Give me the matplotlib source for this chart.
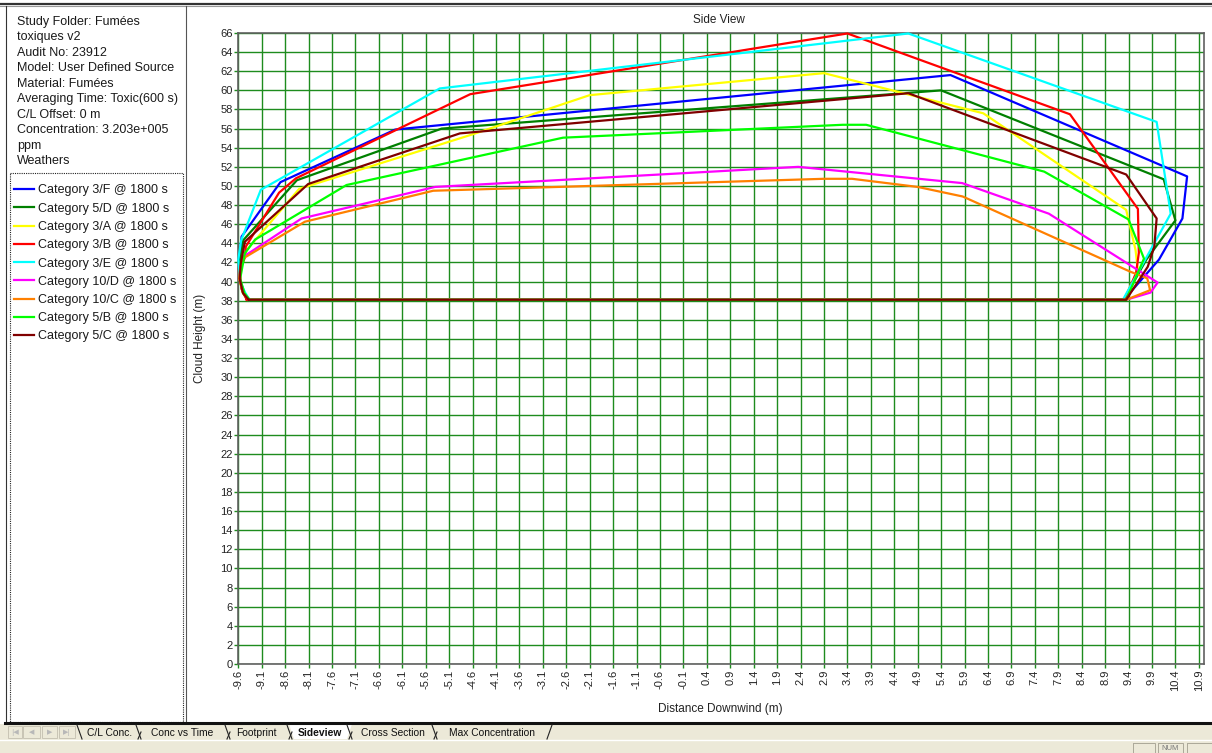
import numpy as np
import matplotlib
matplotlib.use('Agg')
import matplotlib.pyplot as plt
from matplotlib.patches import Rectangle, Polygon

W, H = 1212, 753

info_lines = [
    'Study Folder: Fumées',
    'toxiques v2',
    'Audit No: 23912',
    'Model: User Defined Source',
    'Material: Fumées',
    'Averaging Time: Toxic(600 s)',
    'C/L Offset: 0 m',
    'Concentration: 3.203e+005',
    'ppm',
    'Weathers',
]

series_names = [
    'Category 3/F @ 1800 s',
    'Category 5/D @ 1800 s',
    'Category 3/A @ 1800 s',
    'Category 3/B @ 1800 s',
    'Category 3/E @ 1800 s',
    'Category 10/D @ 1800 s',
    'Category 10/C @ 1800 s',
    'Category 5/B @ 1800 s',
    'Category 5/C @ 1800 s',
]
series_colors = ['#0000FF', '#008000', '#FFFF00', '#FF0000', '#00FFFF',
                 '#FF00FF', '#FF8000', '#00FF00', '#800000']

# cloud outlines (distance downwind m, height m), closed along the 38.1 m base
x_3f = [-9.38, -9.47, -9.57, -9.58, -9.53, -8.7, -6.25, 5.6, 10.65, 10.55, 10.05, 9.3]
y_3f = [38.1, 38.8, 40.2, 42.0, 44.7, 50.4, 55.9, 61.6, 51.0, 46.6, 42.3, 38.1]

x_5d = [-9.4, -9.5, -9.58, -9.57, -9.49, -8.35, -5.26, 5.4, 10.15, 10.4, 9.78, 9.3]
y_5d = [38.1, 38.8, 40.3, 42.0, 44.35, 50.6, 56.0, 60.0, 50.7, 46.4, 42.3, 38.1]

x_3a = [-9.4, -9.5, -9.57, -9.55, -9.42, -8.3, -4.6, -2.1, 2.9, 6.3, 9.35, 9.55, 9.6, 9.3]
y_3a = [38.1, 38.8, 40.2, 41.8, 43.3, 49.7, 55.4, 59.5, 61.8, 57.6, 47.5, 43.3, 41.2, 38.1]

x_3b = [-9.42, -9.53, -9.57, -9.46, -9.44, -8.73, -8.37, -4.65, 3.4, 8.15, 9.6, 9.62, 9.56, 9.32]
y_3b = [38.1, 39.2, 41.2, 42.5, 43.65, 49.3, 50.8, 59.6, 65.95, 57.5, 47.6, 43.0, 40.9, 38.1]

x_3e = [-9.36, -9.45, -9.56, -9.6, -9.54, -9.12, -5.3, 4.7, 10.0, 10.3, 9.28]
y_3e = [38.1, 38.8, 40.0, 42.3, 44.3, 49.6, 60.2, 65.95, 56.7, 47.1, 38.1]

x_10d = [-9.38, -9.48, -9.57, -9.56, -9.49, -8.25, -5.4, 2.35, 5.85, 7.7, 10.02, 9.87, 9.35]
y_10d = [38.1, 38.8, 40.2, 41.5, 42.6, 46.6, 49.9, 52.0, 50.3, 47.1, 39.9, 38.85, 38.1]

x_10c = [-9.38, -9.5, -9.58, -9.56, -9.49, -8.18, -5.44, 2.9, 3.5, 4.9, 5.86, 9.44, 9.8, 9.86, 9.35]
y_10c = [38.1, 38.9, 40.3, 41.5, 42.44, 46.26, 49.5, 50.75, 50.75, 49.9, 48.9, 41.03, 40.34, 39.1, 38.1]

x_5b = [-9.36, -9.47, -9.56, -9.46, -9.24, -7.29, -2.67, 3.3, 3.8, 7.6, 9.4, 9.73, 9.35]
y_5b = [38.1, 38.8, 40.3, 42.96, 44.4, 50.1, 55.05, 56.4, 56.4, 51.5, 46.5, 42.4, 38.1]

x_5c = [-9.38, -9.5, -9.57, -9.55, -9.46, -8.11, -4.87, 4.7, 9.35, 10.0, 9.95, 9.81, 9.35]
y_5c = [38.1, 38.8, 40.3, 41.8, 44.17, 50.2, 55.5, 59.7, 51.2, 46.6, 43.65, 41.55, 38.1]

series_x = [x_3f, x_5d, x_3a, x_3b, x_3e, x_10d, x_10c, x_5b, x_5c]
series_y = [y_3f, y_5d, y_3a, y_3b, y_3e, y_10d, y_10c, y_5b, y_5c]

x_ticks = np.round(np.arange(-9.6, 10.95, 0.5), 1)
y_ticks = np.arange(0, 67, 2)

tab_names = ['C/L Conc.', 'Conc vs Time', 'Footprint', 'Sideview',
             'Cross Section', 'Max Concentration']

plt.rcParams['font.family'] = ['Liberation Sans', 'DejaVu Sans']

fig = plt.figure(figsize=(W / 100, H / 100), dpi=100)

# window chrome drawn in pixel coordinates
bg = fig.add_axes([0, 0, 1, 1], zorder=0)
bg.set_xlim(0, W)
bg.set_ylim(H, 0)
bg.axis('off')
bg.plot([0, W], [4, 4], color='#333333', lw=1.6)
bg.plot([0, W], [6.2, 6.2], color='#999999', lw=0.8)
bg.plot([6, 6], [6, 723], color='#333333', lw=0.8)
bg.plot([186, 186], [6, 723], color='#555555', lw=0.8)
bg.add_patch(Rectangle((9.5, 172.5), 173.5, 549, fill=False, ec='#222222',
                       lw=0.8, ls=(0, (1, 1))))
bg.add_patch(Rectangle((0, 724), W, 29, color='#ECE9D8', lw=0))
bg.plot([5, W], [723, 723], color='#111111', lw=2.2)
bg.plot([0, W], [739.5, 739.5], color='#ffffff', lw=1.0)

# sheet navigation buttons
for (x0, x1), glyph in zip([(8, 22), (23, 40), (42, 57), (59, 75)],
                           ['|◀', '◀', '▶', '▶|']):
    bg.add_patch(Rectangle((x0, 726), x1 - x0, 12, fill=False, ec='#c8c4b4', lw=0.7))
    bg.text((x0 + x1) / 2, 732.5, glyph, ha='center', va='center',
            fontsize=5, color='#b8b8b8', family='DejaVu Sans')

# tabs
bg.add_patch(Polygon([(289, 724), (352, 724), (347, 739), (294, 739)],
                     closed=True, color='#ffffff', lw=0))
for s in [140, 229, 291, 351, 436]:
    bg.plot([s - 4, s + 1], [725, 739], color='#222222', lw=0.8)
    bg.plot([s - 2, s + 1], [739, 732], color='#222222', lw=0.8)
bg.plot([77, 82], [725, 739], color='#222222', lw=0.8)
bg.plot([547, 552], [739, 725], color='#222222', lw=0.8)
for name, cx in zip(tab_names, [110, 182, 256, 320, 393, 492]):
    bg.text(cx, 732.5, name, ha='center', va='center', fontsize=7.4,
            color='#111111', fontweight='bold' if name == 'Sideview' else 'normal')

# status bar panels
for x0, x1 in [(1133, 1155), (1158, 1183), (1187, 1212)]:
    bg.add_patch(Rectangle((x0, 743), x1 - x0, 12, fill=False, ec='#aca899', lw=0.7))
bg.text(1170.5, 748.5, 'NUM', ha='center', va='center', fontsize=5.5, color='#777777')

# info block
fig.text(17 / W, 1 - 15.5 / H, '\n'.join(info_lines), ha='left', va='top',
         fontsize=9, color='#1a1a1a', linespacing=1.395)

# side view plot
ax = fig.add_axes([238.3 / W, 1 - 664 / H, (1203.5 - 238.3) / W, (664 - 33) / H],
                  zorder=2)
handles = []
for xs, ys, c, name in zip(series_x, series_y, series_colors, series_names):
    line, = ax.plot(xs + [xs[0]], ys + [ys[0]], color=c, lw=1.6,
                    label=name, clip_on=False, zorder=3)
    handles.append(line)

ax.set_xlim(-9.6, 11.0)
ax.set_ylim(0, 66)
ax.set_xticks(x_ticks)
ax.set_xticklabels([f'{v:.1f}' for v in x_ticks], rotation=90)
ax.set_yticks(y_ticks)
ax.set_yticklabels([str(v) for v in y_ticks])
ax.grid(True, color='#1e8c1e', lw=1.0)
ax.set_axisbelow(True)
ax.tick_params(axis='both', length=3, width=1.0, color='#1e8c1e', pad=1,
               labelsize=8, labelcolor='#222222')
for sp in ax.spines.values():
    sp.set_color('#606060')
    sp.set_linewidth(1.2)

fig.text(719 / W, 1 - 20 / H, 'Side View', ha='center', va='center',
         fontsize=8.5, color='#222222')
fig.text(200 / W, 1 - 338 / H, 'Cloud Height (m)', ha='center', va='center',
         rotation=90, fontsize=8.5, color='#222222')
fig.text(720 / W, 1 - 709 / H, 'Distance Downwind (m)', ha='center', va='center',
         fontsize=8.5, color='#222222')

fig.legend(handles=handles, loc='upper left', bbox_to_anchor=(14 / W, 1 - 184.5 / H),
           frameon=False, fontsize=9, handlelength=1.6, handletextpad=0.3,
           labelspacing=0.5, borderpad=0, borderaxespad=0,
           labelcolor='#1a1a1a')

fig.savefig('out.png', dpi=100)
